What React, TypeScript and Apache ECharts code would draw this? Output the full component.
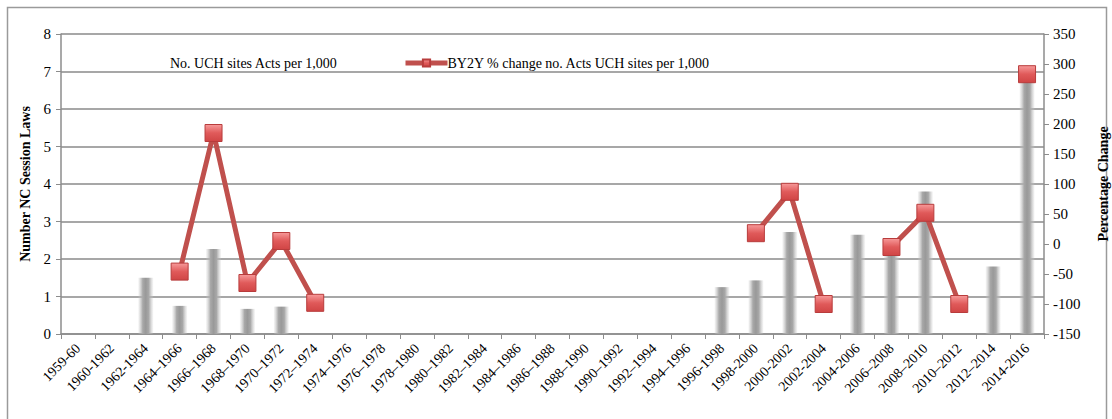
import React, { useEffect, useRef } from "react";
import * as echarts from "echarts";

const categories = [
  "1959-60", "1960-1962", "1962-1964", "1964–1966", "1966–1968", "1968–1970", "1970–1972",
  "1972–1974", "1974–1976", "1976–1978", "1978–1980", "1980–1982", "1982–1984", "1984–1986",
  "1986–1988", "1988–1990", "1990–1992", "1992–1994", "1994–1996", "1996-1998", "1998-2000",
  "2000-2002", "2002-2004", "2004-2006", "2006–2008", "2008–2010", "2010–2012", "2012–2014",
  "2014-2016",
];

const actsPer1000 = [
  null, null, 1.5, 0.75, 2.27, 0.67, 0.73, null, null, null, null, null, null, null, null,
  null, null, null, null, 1.25, 1.43, 2.72, null, 2.65, 2.2, 3.8, null, 1.8, 6.85,
];

const pctChange = [
  null, null, null, -46, 185, -65, 5, -98, null, null, null, null, null, null, null,
  null, null, null, null, null, 18, 87, -100, null, -5, 52, -100, null, 283,
];

const barName = "No. UCH sites Acts per 1,000";
const lineName = "BY2Y % change no. Acts UCH sites per 1,000";

const FONT = "'Liberation Serif', 'Times New Roman', serif";

export default function App() {
  const ref = useRef<HTMLDivElement>(null);
  useEffect(() => {
    if (!ref.current) return;
    const chart = echarts.init(ref.current, null, { renderer: "svg" });
    const barGrad = new echarts.graphic.LinearGradient(0, 0, 1, 0, [
      { offset: 0, color: "rgba(200,200,200,0.15)" },
      { offset: 0.3, color: "#a8a8a8" },
      { offset: 0.5, color: "#999999" },
      { offset: 0.7, color: "#a8a8a8" },
      { offset: 1, color: "rgba(200,200,200,0.15)" },
    ]);
    const markGrad = new echarts.graphic.LinearGradient(0, 0, 0, 1, [
      { offset: 0, color: "#f79a9a" },
      { offset: 0.5, color: "#e05a5a" },
      { offset: 1, color: "#d04545" },
    ]);
    chart.setOption({
      animation: false,
      textStyle: { fontFamily: FONT },
      graphic: [
        {
          type: "rect",
          shape: { x: 7.5, y: 7.5, width: 1099, height: 430 },
          style: { fill: "none", stroke: "#9a9a9a", lineWidth: 1.5 },
          silent: true,
        },
      ],
      legend: [
        {
          data: [{ name: barName, icon: "none" }],
          left: 160,
          top: 51,
          itemWidth: 0,
          itemGap: 0,
          textStyle: { fontFamily: FONT, fontSize: 14, color: "#000" },
          selectedMode: false,
        },
        {
          data: [lineName],
          left: 398,
          top: 51,
          itemWidth: 42,
          itemHeight: 9,
          itemGap: 0,
          lineStyle: { width: 5, color: "#c0504d" },
          textStyle: { fontFamily: FONT, fontSize: 14, color: "#000", padding: [0, 0, 0, -5] },
          selectedMode: false,
        },
      ],
      grid: { left: 61, right: 68, top: 34, bottom: 85, containLabel: false, outerBoundsMode: "none" },
      xAxis: {
        type: "category",
        data: categories,
        axisLine: { lineStyle: { color: "#8c8c8c", width: 1.5 } },
        axisTick: { show: true, alignWithLabel: false, length: 5, lineStyle: { color: "#8c8c8c" } },
        axisLabel: {
          interval: 0,
          rotate: 45,
          fontFamily: FONT,
          fontSize: 14,
          color: "#000",
          margin: 12,
        },
      },
      yAxis: [
        {
          type: "value",
          min: 0,
          max: 8,
          interval: 1,
          name: "Number NC Session Laws",
          nameLocation: "middle",
          nameGap: 25,
          nameTextStyle: { fontFamily: FONT, fontSize: 14, fontWeight: "bold", color: "#000" },
          axisLine: { show: true, lineStyle: { color: "#8c8c8c", width: 1.5 } },
          axisTick: { show: true, length: 5, lineStyle: { color: "#8c8c8c" } },
          axisLabel: { fontFamily: FONT, fontSize: 15, color: "#000", margin: 10 },
          splitLine: { show: true, lineStyle: { color: "#8a8a8a", width: 1.5 } },
        },
        {
          type: "value",
          min: -150,
          max: 350,
          interval: 50,
          position: "right",
          name: "Percentage Change",
          nameLocation: "middle",
          nameGap: 52,
          nameRotate: 90,
          nameTextStyle: { fontFamily: FONT, fontSize: 14, fontWeight: "bold", color: "#000" },
          axisLine: { show: true, lineStyle: { color: "#8c8c8c", width: 1.5 } },
          axisTick: { show: true, length: 5, lineStyle: { color: "#8c8c8c" } },
          axisLabel: { fontFamily: FONT, fontSize: 15, color: "#000", margin: 9 },
          splitLine: { show: false },
        },
      ],
      series: [
        {
          name: barName,
          type: "bar",
          data: actsPer1000,
          barWidth: 15,
          itemStyle: { color: barGrad },
        },
        {
          name: lineName,
          type: "line",
          yAxisIndex: 1,
          data: pctChange,
          connectNulls: false,
          symbol: "rect",
          symbolSize: 17,
          showAllSymbol: true,
          lineStyle: { color: "#c0504d", width: 5 },
          itemStyle: { color: markGrad, borderColor: "#b83c3c", borderWidth: 1 },
          z: 5,
        },
      ],
    });
    return () => chart.dispose();
  }, []);
  return (
    <div
      ref={ref}
      style={{ position: "absolute", left: 0, top: 0, width: 1112, height: 419, background: "#fff" }}
    />
  );
}
